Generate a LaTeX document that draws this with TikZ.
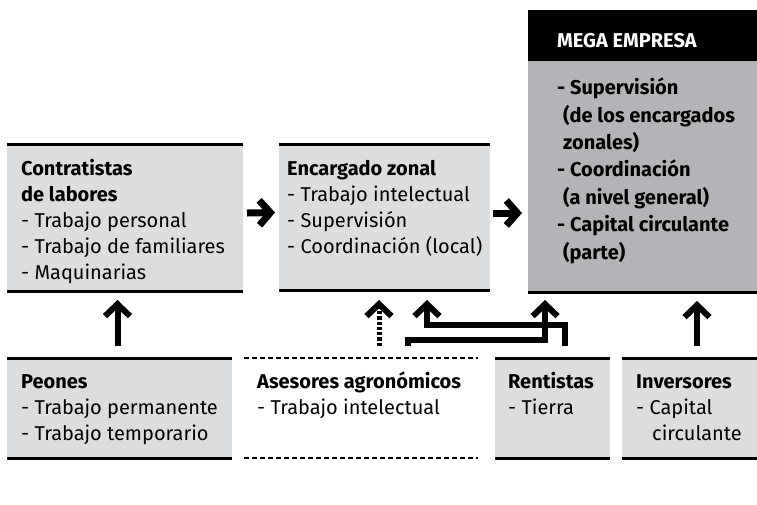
\documentclass[tikz,border=0pt]{standalone}
\usepackage{fontspec}
\setmainfont{Fira Sans}
\usetikzlibrary{arrows.meta,calc}
\definecolor{lightbox}{HTML}{DCDDDF}
\definecolor{darkbox}{HTML}{B2B4B7}
\begin{document}
\begin{tikzpicture}[x=1pt,y=-1pt,
  box/.style={fill=lightbox, draw=none, inner sep=0pt, outer sep=0pt, anchor=north west},
  rulebox/.style={line width=3pt},
  dashrule/.style={line width=2.5pt, dash pattern=on 5pt off 3pt},
  txt/.style={anchor=base west, align=left, inner sep=0pt, font=\fontsize{20}{26}\selectfont},
  megatxt/.style={anchor=base west, align=left, inner sep=0pt, font=\fontsize{20}{27.4}\selectfont\bfseries},
  harrow/.style={line width=7pt, -{Straight Barb[length=11pt,width=25pt]}},
  varrow/.style={line width=6pt, line join=miter, -{Straight Barb[length=12pt,width=25pt]}},
  darrow/.style={line width=5pt, dash pattern=on 3.3pt off 2pt, -{Straight Barb[length=12pt,width=25pt,line width=6pt]}}
]
\useasboundingbox (0,0) rectangle (757,504);

% ---- top row boxes
\node[box, minimum width=236pt, minimum height=147pt] (contr) at (7,144) {};
\node[box, minimum width=211pt, minimum height=146pt] (enc) at (279,144) {};
\node[box, fill=darkbox, minimum width=229pt, minimum height=282pt] (mega) at (528,10) {};
\node[box, fill=black, minimum width=229pt, minimum height=51pt] (megahead) at (528,10) {};

\draw[rulebox] (contr.north west) -- (contr.north east);
\draw[rulebox] (contr.south west) -- (contr.south east);
\draw[rulebox] (enc.north west) -- (enc.north east);
\draw[rulebox] (enc.south west) -- (enc.south east);
\draw[rulebox] (mega.south west) -- (mega.south east);

% ---- bottom row boxes
\node[box, minimum width=225pt, minimum height=100pt] (peon) at (7,358) {};
\node[box, fill=none, minimum width=234pt, minimum height=100pt] (ases) at (244,358) {};
\node[box, minimum width=115pt, minimum height=100pt] (rent) at (495,358) {};
\node[box, minimum width=135pt, minimum height=100pt] (inv) at (622,358) {};

\draw[rulebox] (peon.north west) -- (peon.north east);
\draw[rulebox] (peon.south west) -- (peon.south east);
\draw[dashrule] (ases.north west) -- (ases.north east);
\draw[dashrule] (ases.south west) -- (ases.south east);
\draw[rulebox] (rent.north west) -- (rent.north east);
\draw[rulebox] (rent.south west) -- (rent.south east);
\draw[rulebox] (inv.north west) -- (inv.north east);
\draw[rulebox] (inv.south west) -- (inv.south east);

% ---- texts (anchored at the baseline of the last line)
\node[txt] (contrT) at (21,279) {{\bfseries Contratistas}\\{\bfseries de labores}\\- Trabajo personal\\- Trabajo de familiares\\- Maquinarias};
\node[txt] (encT) at (287,253) {{\bfseries Encargado zonal}\\- Trabajo intelectual\\- Supervisión\\- Coordinación (local)};
\node[megatxt, text=white] (megaH) at (557,47) {MEGA EMPRESA};
\node[megatxt] (megaT) at (557,259) {- Supervisión\\\hspace*{6pt}(de los encargados\\\hspace*{6pt}zonales)\\- Coordinación\\\hspace*{6pt}(a nivel general)\\- Capital circulante\\\hspace*{6pt}(parte)};
\node[txt] (peonT) at (21,440) {{\bfseries Peones}\\- Trabajo permanente\\- Trabajo temporario};
\node[txt] (asesT) at (257,414) {{\bfseries Asesores agronómicos}\\- Trabajo intelectual};
\node[txt] (rentT) at (508,414) {{\bfseries Rentistas}\\- Tierra};
\node[txt] (invT) at (636,440) {{\bfseries Inversores}\\- Capital\\\hspace*{16pt}circulante};

% ---- horizontal arrows
\draw[harrow] ([xshift=4pt,yshift=4.5pt]contr.east) -- ([xshift=-4pt,yshift=4.5pt]enc.west);
\coordinate (h2) at ([xshift=3pt,yshift=4pt]enc.east);
\draw[harrow, shorten >=6pt] (h2) -- (h2 -| mega.west);

% ---- vertical arrows
\coordinate (p1) at ([xshift=-2pt,yshift=12pt]peon.north);
\draw[varrow, shorten >=9pt] (p1) -- (p1 |- contr.south);
\coordinate (i1) at ([xshift=7.5pt,yshift=12pt]inv.north);
\draw[varrow, shorten >=9pt] (i1) -- (i1 |- mega.south);
\coordinate (a0) at ([xshift=18pt,yshift=12pt]ases.north);
\draw[darrow, shorten >=10pt] (a0) -- (a0 |- enc.south);

% ---- elbow arrows
\coordinate (r1) at ([xshift=12.5pt,yshift=12pt]rent.north);
\draw[varrow] (r1) -- ++(0,-21) -| ([xshift=42.5pt,yshift=-10pt]enc.south);
\coordinate (a1) at ([xshift=47pt,yshift=12pt]ases.north);
\draw[varrow] (a1) -- ++(0,-6) -| ([xshift=-97.5pt,yshift=-8pt]mega.south);
\end{tikzpicture}
\end{document}
